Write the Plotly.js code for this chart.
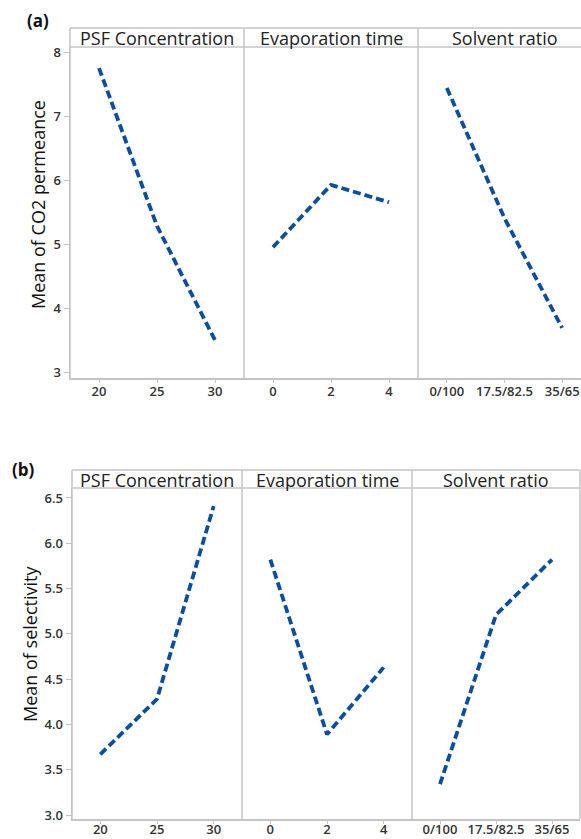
<!DOCTYPE html>
<html>
<head>
<meta charset="utf-8">
<script src="https://cdn.plot.ly/plotly-3.0.1.min.js"></script>
<style>
html,body{margin:0;padding:0;background:#fff;overflow:hidden;width:581px;height:839px;}
#chart{width:592px;height:839px;}
</style>
</head>
<body>
<div id="chart"></div>
<script>
// ---- data ----
const factorNames = ["PSF Concentration", "Evaporation time", "Solvent ratio"];
const psfLevels = [20, 25, 30];
const evapLevels = [0, 2, 4];
const solventLevels = ["0/100", "17.5/82.5", "35/65"];

const permPSF = [7.75, 5.29, 3.51];
const permEvap = [4.96, 5.93, 5.66];
const permSolvent = [7.44, 5.41, 3.70];

const selPSF = [3.67, 4.28, 6.41];
const selEvap = [5.82, 3.89, 4.63];
const selSolvent = [3.34, 5.21, 5.82];

const yTitleA = "Mean of CO2 permeance";
const yTitleB = "Mean of selectivity";
const panelLabels = ["(a)", "(b)"];

// ---- geometry (pixels) ----
const W = 592, H = 839;
const px = v => v / W;
const py = v => 1 - v / H;

const A = {hTop: 28, pTop: 47, pBot: 378, xs: [70, 244, 418, 591], stand: -2};
const B = {hTop: 470, pTop: 488, pBot: 819, xs: [72, 242, 412, 580], stand: -5};

const lineColor = "#0a4ea3";
const frameColor = "#c4c4c4";
const tickFont = {family: "Open Sans", size: 13, color: "#333", weight: 600};

function trace(x, y, xa, ya) {
  return {x: x, y: y, xaxis: xa, yaxis: ya, type: "scatter", mode: "lines",
    line: {color: lineColor, width: 3.8, dash: "8px,4px"}, hoverinfo: "skip", showlegend: false};
}

const data = [
  trace(psfLevels, permPSF, "x", "y"),
  trace(evapLevels, permEvap, "x2", "y"),
  trace(solventLevels, permSolvent, "x3", "y"),
  trace(psfLevels, selPSF, "x4", "y2"),
  trace(evapLevels, selEvap, "x5", "y2"),
  trace(solventLevels, selSolvent, "x6", "y2")
];

function xaxis(G, i, anchor, extra) {
  return Object.assign({
    domain: [px(G.xs[i]), px(G.xs[i + 1])], anchor: anchor,
    showgrid: false, zeroline: false, showline: true, linecolor: frameColor, linewidth: 1.5,
    ticks: "outside", ticklen: 3, tickcolor: frameColor, tickwidth: 1,
    ticklabelstandoff: G.stand,
    tickfont: tickFont, fixedrange: true
  }, extra);
}
function yaxis(G, anchor, extra) {
  return Object.assign({
    domain: [py(G.pBot), py(G.pTop)], anchor: anchor,
    showgrid: false, zeroline: false, showline: true, linecolor: frameColor, linewidth: 1.5,
    ticks: "outside", ticklen: 5, tickcolor: frameColor, tickwidth: 1,
    tickfont: tickFont, fixedrange: true
  }, extra);
}

const layout = {
  width: W, height: H,
  margin: {l: 0, r: 0, t: 0, b: 0},
  paper_bgcolor: "#fff", plot_bgcolor: "#fff",
  showlegend: false,
  xaxis: xaxis(A, 0, "y", {range: [17.5, 32.5], tickvals: psfLevels}),
  xaxis2: xaxis(A, 1, "y", {range: [-1, 5], tickvals: evapLevels}),
  xaxis3: xaxis(A, 2, "y", {type: "category", range: [-0.5, 2.5]}),
  xaxis4: xaxis(B, 0, "y2", {range: [17.5, 32.5], tickvals: psfLevels}),
  xaxis5: xaxis(B, 1, "y2", {range: [-1, 5], tickvals: evapLevels}),
  xaxis6: xaxis(B, 2, "y2", {type: "category", range: [-0.5, 2.5]}),
  yaxis: yaxis(A, "x", {range: [2.92, 8.08], dtick: 1, tick0: 0}),
  yaxis2: yaxis(B, "x4", {range: [2.956, 6.61], dtick: 0.5, tick0: 0, tickformat: ".1f"}),
  shapes: [],
  annotations: []
};

function frame(G) {
  const s = {type: "line", xref: "paper", yref: "paper", line: {color: frameColor, width: 1.5}, layer: "above"};
  layout.shapes.push(Object.assign({}, s, {x0: px(G.xs[0]), x1: px(G.xs[3]), y0: py(G.hTop), y1: py(G.hTop)}));
  layout.shapes.push(Object.assign({}, s, {x0: px(G.xs[0]), x1: px(G.xs[3]), y0: py(G.pTop), y1: py(G.pTop)}));
  for (let i = 0; i < 4; i++) {
    layout.shapes.push(Object.assign({}, s, {x0: px(G.xs[i]), x1: px(G.xs[i]), y0: py(G.pBot), y1: py(G.hTop)}));
  }
  for (let i = 0; i < 3; i++) {
    layout.annotations.push({
      xref: "paper", yref: "paper", x: px((G.xs[i] + G.xs[i + 1]) / 2), y: py((G.hTop + G.pTop) / 2 + 0.5),
      text: factorNames[i], showarrow: false, xanchor: "center", yanchor: "middle",
      font: {family: "Open Sans", size: 18, color: "#222", weight: 500}
    });
  }
}
frame(A);
frame(B);

layout.annotations.push({xref: "paper", yref: "paper", x: px(38), y: py(205), text: yTitleA,
  textangle: -90, showarrow: false, xanchor: "center", yanchor: "middle",
  font: {family: "Open Sans", size: 18, color: "#111"}});
layout.annotations.push({xref: "paper", yref: "paper", x: px(30), y: py(644), text: yTitleB,
  textangle: -90, showarrow: false, xanchor: "center", yanchor: "middle",
  font: {family: "Open Sans", size: 18, color: "#111"}});
layout.annotations.push({xref: "paper", yref: "paper", x: px(38), y: py(21), text: "<b>" + panelLabels[0] + "</b>",
  showarrow: false, xanchor: "center", yanchor: "middle", font: {family: "Open Sans", size: 17, color: "#111"}});
layout.annotations.push({xref: "paper", yref: "paper", x: px(23), y: py(469), text: "<b>" + panelLabels[1] + "</b>",
  showarrow: false, xanchor: "center", yanchor: "middle", font: {family: "Open Sans", size: 17, color: "#111"}});

Plotly.newPlot("chart", data, layout, {displayModeBar: false, staticPlot: true});
</script>
</body>
</html>
